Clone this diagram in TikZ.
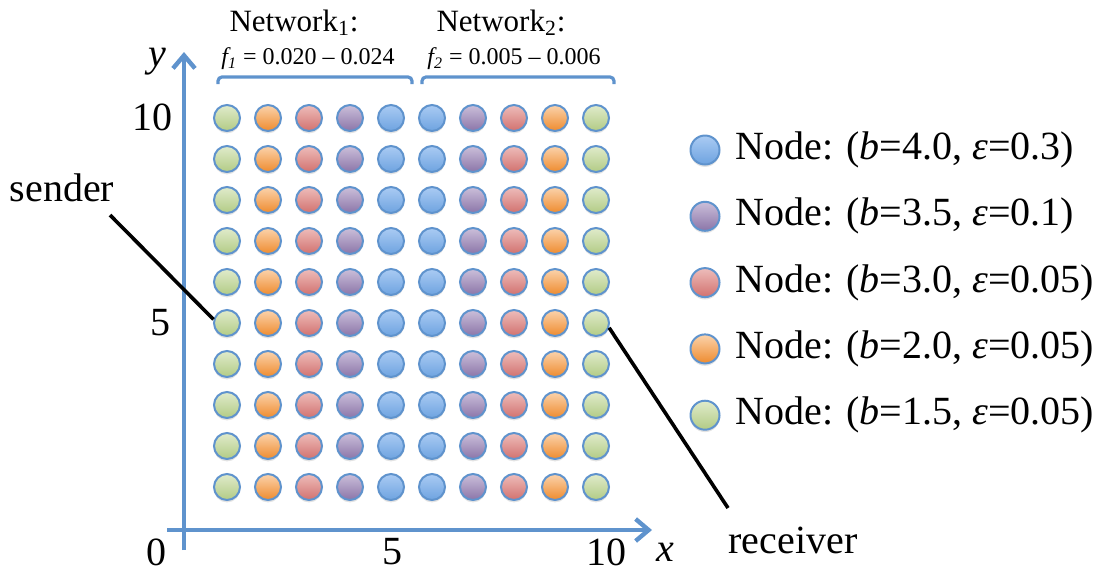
\documentclass[tikz,border=0pt]{standalone}
\usepackage{fontspec}
\setmainfont{Liberation Serif}
\usetikzlibrary{arrows.meta,shadows}
\definecolor{AxBlue}{HTML}{5F93CD}
\definecolor{G-top}{HTML}{E0EBCB}
\definecolor{G-bot}{HTML}{B2CB85}
\definecolor{O-top}{HTML}{FBD3AC}
\definecolor{O-bot}{HTML}{EE8B2E}
\definecolor{R-top}{HTML}{EDBDBB}
\definecolor{R-bot}{HTML}{D2716E}
\definecolor{P-top}{HTML}{CBBFDA}
\definecolor{P-bot}{HTML}{8B75A8}
\definecolor{B-top}{HTML}{AACBF3}
\definecolor{B-bot}{HTML}{6EA3E0}
\newcommand{\bigtxt}{\fontsize{20}{24}\selectfont}
\newcommand{\midtxt}{\fontsize{15.5}{18}\selectfont}
\newcommand{\smalltxt}{\fontsize{12}{14}\selectfont}

\begin{document}
\begin{tikzpicture}[x=0.5pt,y=-0.5pt,
  dot/.style={circle,draw=AxBlue,line width=1pt,minimum size=13pt,inner sep=0pt,
    top color=#1-top,bottom color=#1-bot,
    drop shadow={opacity=0.22,shadow xshift=0pt,shadow yshift=-1.2pt}},
  keydot/.style={dot=#1,minimum size=14.5pt},
  axis/.style={AxBlue,line width=2.2pt,-{Straight Barb[length=6.5pt,width=11pt]}},
  brace/.style={AxBlue,line width=1.6pt,rounded corners=2pt},
  pointer/.style={black,line width=1.8pt},
  lbl/.style={inner sep=0pt,font=\bigtxt}]
\path[use as bounding box] (0,0) rectangle (1113,574);

% axes
\coordinate (xs) at (167,530);
\coordinate (xe) at (652,530);
\coordinate (ys) at (184,550);
\coordinate (ye) at (184,52);
\draw[axis] (xs) -- (xe);
\draw[axis] (ys) -- (ye);
\node[lbl] (ylab) at (157,62) {\textit{y}};
\node[lbl] (xlab) at (665,552) {\textit{x}};
\node[lbl] (y10) at (152,117) {10};
\node[lbl] (y5) at (160,323) {5};
\node[lbl] (orig) at (156,552) {0};
\node[lbl] (x5) at (392,552) {5};
\node[lbl] (x10) at (606,552) {10};

% node grid
\foreach \clr [count=\i] in {G,O,R,P,B,B,P,R,O,G}{
  \foreach \j in {1,...,10}{
    \node[dot=\clr] (n\i-\j) at ({227+41*(\i-1)},{487-41*(\j-1)}) {};
  }
}

% network braces
\draw[brace] (218,84) -- (218,77) -- (412,77) -- (412,84);
\draw[brace] (422,84) -- (422,77) -- (614,77) -- (614,84);
\node[inner sep=0pt,font=\midtxt] (net1) at (294,23) {Network\textsubscript{1}:};
\node[inner sep=0pt,font=\smalltxt] (f1) at (308,59) {\textit{f\textsubscript{1}} = 0.020 -- 0.024};
\node[inner sep=0pt,font=\midtxt] (net2) at (501,23) {Network\textsubscript{2}:};
\node[inner sep=0pt,font=\smalltxt] (f2) at (514,59) {\textit{f\textsubscript{2}} = 0.005 -- 0.006};

% sender and receiver
\node[lbl] (sender) at (62,188) {sender};
\coordinate (sfoot) at (110,215);
\draw[pointer] (sfoot) -- (n1-5.165);
\node[lbl] (receiver) at (793,540) {receiver};
\coordinate (rfoot) at (728,508);
\draw[pointer] (n10-5.-20) -- (rfoot);

% legend
\foreach \clr/\txt [count=\k] in {B/{\textit{b}=4.0, \textit{ε}=0.3},
    P/{\textit{b}=3.5, \textit{ε}=0.1},
    R/{\textit{b}=3.0, \textit{ε}=0.05},
    O/{\textit{b}=2.0, \textit{ε}=0.05},
    G/{\textit{b}=1.5, \textit{ε}=0.05}}{
  \node[keydot=\clr] (key\k) at (705,{150+66.3*(\k-1)}) {};
  \node[lbl,anchor=west] (keytxt\k) at (735,{150+66.3*(\k-1)}) {Node: (\txt)};
}
\end{tikzpicture}
\end{document}
